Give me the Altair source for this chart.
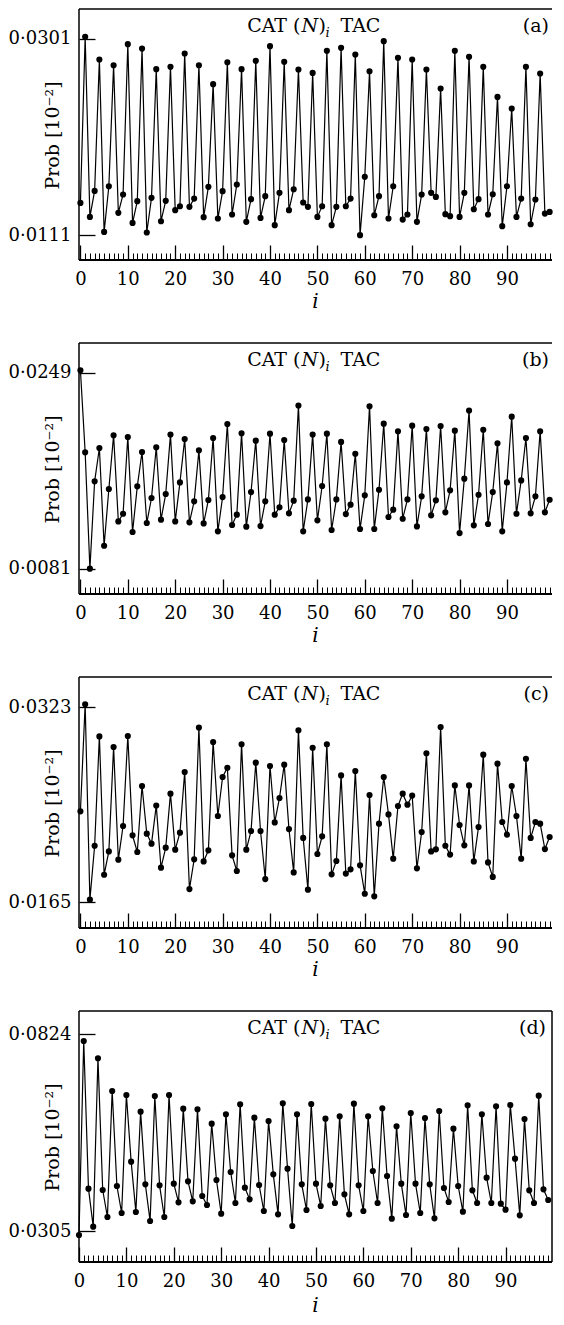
import altair as alt
import pandas as pd

FONT = "DejaVu Serif"
H = 251

idx = list(range(100))

prob_a = [0.01422, 0.03026, 0.01287, 0.01538, 0.02807, 0.01142, 0.01583, 0.02752, 0.01326, 0.01503,
          0.02955, 0.01229, 0.01439, 0.02913, 0.01136, 0.01471, 0.02714, 0.01245, 0.01442, 0.02736,
          0.01352, 0.01390, 0.02865, 0.01384, 0.01464, 0.02752, 0.01284, 0.01577, 0.02569, 0.01271,
          0.01535, 0.02781, 0.01310, 0.01600, 0.02714, 0.01239, 0.01458, 0.02794, 0.01277, 0.01487,
          0.02936, 0.01207, 0.01519, 0.02785, 0.01352, 0.01554, 0.02711, 0.01426, 0.01384, 0.02678,
          0.01287, 0.01390, 0.02891, 0.01207, 0.01384, 0.02920, 0.01390, 0.01464, 0.02855, 0.01110,
          0.01674, 0.02694, 0.01303, 0.01487, 0.02984, 0.01271, 0.01583, 0.02823, 0.01261, 0.01310,
          0.02807, 0.01239, 0.01503, 0.02711, 0.01519, 0.01480, 0.02527, 0.01313, 0.01294, 0.02891,
          0.01287, 0.01519, 0.02833, 0.01361, 0.01458, 0.02736, 0.01310, 0.01506, 0.02446, 0.01197,
          0.01583, 0.02334, 0.01287, 0.01464, 0.02736, 0.01216, 0.01455, 0.02672, 0.01319, 0.01335]

prob_b = [0.02513, 0.01809, 0.00810, 0.01560, 0.01846, 0.01007, 0.01494, 0.01955, 0.01216, 0.01282,
          0.01940, 0.01125, 0.01517, 0.01812, 0.01202, 0.01417, 0.01852, 0.01231, 0.01451, 0.01961,
          0.01216, 0.01551, 0.01923, 0.01208, 0.01388, 0.01826, 0.01199, 0.01400, 0.01932, 0.01131,
          0.01425, 0.02052, 0.01185, 0.01274, 0.01972, 0.01171, 0.01468, 0.01909, 0.01176, 0.01388,
          0.01969, 0.01274, 0.01337, 0.01915, 0.01285, 0.01394, 0.02210, 0.01131, 0.01405, 0.01961,
          0.01225, 0.01520, 0.01969, 0.01142, 0.01405, 0.01898, 0.01279, 0.01360, 0.01797, 0.01151,
          0.01440, 0.02204, 0.01151, 0.01488, 0.02055, 0.01254, 0.01317, 0.01989, 0.01239, 0.01405,
          0.02038, 0.01173, 0.01431, 0.02009, 0.01268, 0.01397, 0.02035, 0.01294, 0.01483, 0.01995,
          0.01116, 0.01583, 0.02167, 0.01182, 0.01445, 0.02003, 0.01194, 0.01468, 0.01886, 0.01131,
          0.01551, 0.02115, 0.01282, 0.01568, 0.01932, 0.01285, 0.01431, 0.01989, 0.01294, 0.01402]

prob_c = [0.02385, 0.03252, 0.01669, 0.02106, 0.02992, 0.01871, 0.02060, 0.02906, 0.01993, 0.02266,
          0.02995, 0.02190, 0.02055, 0.02590, 0.02204, 0.02123, 0.02431, 0.01928, 0.02090, 0.02528,
          0.02074, 0.02212, 0.02703, 0.01755, 0.01996, 0.03063, 0.01979, 0.02069, 0.02946, 0.02347,
          0.02663, 0.02738, 0.02028, 0.01901, 0.02928, 0.02074, 0.02225, 0.02779, 0.02225, 0.01836,
          0.02752, 0.02295, 0.02493, 0.02763, 0.02241, 0.01890, 0.03041, 0.02169, 0.01750, 0.02900,
          0.02039, 0.02182, 0.02928, 0.01874, 0.01982, 0.02676, 0.01880, 0.01915, 0.02711, 0.01947,
          0.01717, 0.02517, 0.01696, 0.02285, 0.02663, 0.02360, 0.02001, 0.02428, 0.02528, 0.02439,
          0.02512, 0.01923, 0.02217, 0.02855, 0.02060, 0.02077, 0.03068, 0.02106, 0.02034, 0.02595,
          0.02274, 0.02109, 0.02595, 0.01979, 0.02258, 0.02844, 0.01971, 0.01853, 0.02771, 0.02298,
          0.02196, 0.02590, 0.02347, 0.02001, 0.02811, 0.02169, 0.02298, 0.02285, 0.02079, 0.02177]

prob_d = [0.02944, 0.08064, 0.04167, 0.03164, 0.07607, 0.04132, 0.03419, 0.06745, 0.04237, 0.03525,
          0.06639, 0.04880, 0.03551, 0.06199, 0.04281, 0.03314, 0.06613, 0.04255, 0.03419, 0.06639,
          0.04299, 0.03806, 0.06278, 0.04361, 0.03833, 0.06261, 0.03973, 0.03736, 0.05882, 0.04396,
          0.03507, 0.06129, 0.04607, 0.03789, 0.06393, 0.04193, 0.03886, 0.06041, 0.04264, 0.03578,
          0.05953, 0.04545, 0.03490, 0.06419, 0.04695, 0.03182, 0.06129, 0.04281, 0.03604, 0.06401,
          0.04299, 0.03710, 0.06014, 0.04255, 0.03789, 0.06076, 0.04017, 0.03490, 0.06410, 0.04255,
          0.03578, 0.06076, 0.04633, 0.03789, 0.06287, 0.04501, 0.03375, 0.05812, 0.04299, 0.03472,
          0.06164, 0.04299, 0.03525, 0.06032, 0.04281, 0.03384, 0.06217, 0.04185, 0.03815, 0.05750,
          0.04237, 0.03560, 0.06366, 0.04123, 0.03789, 0.06129, 0.04457, 0.03789, 0.06340, 0.03771,
          0.03613, 0.06375, 0.04959, 0.03463, 0.06006, 0.04123, 0.03789, 0.06621, 0.04149, 0.03868]

ticks_a = [0.0111, 0.0301]
ticks_b = [0.0081, 0.0249]
ticks_c = [0.0165, 0.0323]
ticks_d = [0.0305, 0.0824]

major_ticks = list(range(0, 100, 10))

one = pd.DataFrame({"k": [0]})


def txt(text, x, y, size=19, style="normal", align="left", baseline="alphabetic", angle=0):
    return alt.Chart(one).mark_text(
        text=text, font=FONT, fontSize=size, fontStyle=style, align=align,
        baseline=baseline, angle=angle, color="black"
    ).encode(x=alt.value(x), y=alt.value(y))


def hrule(x1, x2, y, w):
    return alt.Chart(one).mark_rule(color="black", strokeWidth=w).encode(
        x=alt.value(x1), x2=alt.value(x2), y=alt.value(y))


def vrule(x, y1, y2, w):
    return alt.Chart(one).mark_rule(color="black", strokeWidth=w).encode(
        x=alt.value(x), y=alt.value(y1), y2=alt.value(y2))


def panel(vals, ticks, ydom, xdom, width, letter, letter_inset, ititle_dy, right_border):
    df = pd.DataFrame({"i": idx, "p": vals})
    xs = alt.Scale(domain=xdom, nice=False, zero=False)
    ys = alt.Scale(domain=ydom, nice=False, zero=False)
    yaxis = alt.Axis(values=ticks, tickSize=16, offset=-16, domain=False, grid=False,
                     labelPadding=8, labelFontSize=18, labelFont=FONT, labelColor="black",
                     labelExpr="replace(format(datum.value, '.4f'), '.', '\u00b7')",
                     tickColor="black", tickWidth=1.3, title=None)
    major = alt.Axis(values=major_ticks, tickSize=15, offset=-15, domain=False, grid=False,
                     labelPadding=10, labelFontSize=18, labelFont=FONT, labelColor="black",
                     labelFlush=False, format="d", tickColor="black", tickWidth=1.3,
                     title=None, orient="bottom")
    minor = alt.Axis(values=idx, tickSize=7, offset=-7, domain=False, grid=False,
                     labels=False, tickColor="black", tickWidth=1, title=None, orient="bottom")
    base = alt.Chart(df)
    line = base.mark_line(color="black", strokeWidth=1.2).encode(
        x=alt.X("i:Q", scale=xs, axis=major),
        y=alt.Y("p:Q", scale=ys, axis=yaxis),
    )
    pts = base.mark_circle(color="black", size=38, opacity=1).encode(
        x=alt.X("i:Q", scale=xs, axis=minor),
        y=alt.Y("p:Q", scale=ys, axis=yaxis),
    )
    c = width / 2
    frame = [
        vrule(0, 0, H, 1.5),
        hrule(0, width, 0, 1.5),
        hrule(0, width, H, 2),
    ]
    if right_border:
        frame.append(vrule(width, 0, H, 1.5))
    texts = [
        txt("CAT (", c - 15, 23, align="right"),
        txt("N", c - 14, 23, style="italic"),
        txt(")", c + 3, 23),
        txt("i", c + 10, 28, size=13, style="italic"),
        txt("TAC", c + 25, 23),
        txt(letter, width - letter_inset, 23, align="right"),
        txt("Prob [10\u207b\u00b2]", -26, H / 2 + 1, baseline="middle", align="center", angle=270),
        txt("i", c, H + ititle_dy, size=20, style="italic", baseline="middle", align="center"),
    ]
    return alt.layer(line, pts, *frame, *texts).resolve_axis(x="independent").properties(
        width=width, height=H
    )


W = 473
pa = panel(prob_a, ticks_a, [0.008705, 0.032950], [-0.3, 99.5], W, "(a)", 3, 42, False)
pb = panel(prob_b, ticks_b, [0.005928, 0.027475], [-0.3, 99.5], W, "(b)", 3, 42, False)
pc = panel(prob_c, ticks_c, [0.014394, 0.034731], [-0.3, 99.5], W, "(c)", 3, 42, False)
pd_ = panel(prob_d, ticks_d, [0.022321, 0.088548], [0, 99.8], W, "(d)", 6, 44, True)

chart = alt.vconcat(
    pa, pb, pc, pd_, spacing=83, bounds="flush",
    padding={"left": 0, "top": 0, "right": 0, "bottom": 0},
).configure_view(strokeWidth=0)

chart.save("out.html", embed_options={"renderer": "svg", "actions": False})
